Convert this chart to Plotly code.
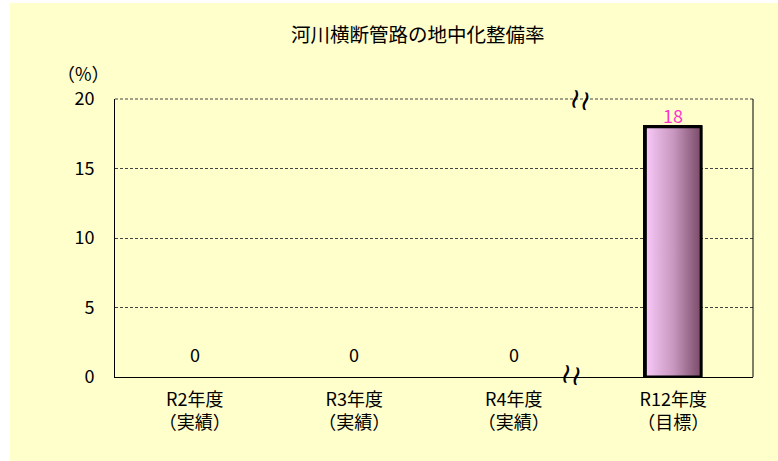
import plotly.graph_objects as go

# Data
categories = ["R2年度<br>（実績）", "R3年度<br>（実績）", "R4年度<br>（実績）", "R12年度<br>（目標）"]
values = [0, 0, 0, 18]
y_ticks = [0, 5, 10, 15, 20]

title_text = "河川横断管路の地中化整備率"
unit_text = "（%）"

FONT = "Noto Sans CJK JP"
BG = "#FFFFCC"
BAR_W = 0.35
xs = list(range(len(categories)))

fig = go.Figure()

# Base bars (no outline for empty bars)
fig.add_trace(go.Bar(
    x=xs, y=values, width=BAR_W,
    marker=dict(color="#B886B0",
                line=dict(color="black", width=[0 if v == 0 else 3 for v in values])),
    hoverinfo="skip", showlegend=False,
))

# Gradient overlay for each non-zero bar
for x, v in zip(xs, values):
    if v == 0:
        continue
    x0, x1 = x - BAR_W / 2, x + BAR_W / 2
    fig.add_trace(go.Scatter(
        x=[x0, x1, x1, x0, x0], y=[0, 0, v, v, 0],
        mode="lines", fill="toself",
        fillgradient=dict(type="horizontal",
                          colorscale=[[0, "#F9C9F9"], [0.5, "#C898C0"], [1, "#7A4A68"]]),
        line=dict(color="black", width=3),
        hoverinfo="skip", showlegend=False,
    ))

# Value labels
for x, v in zip(xs, values):
    fig.add_annotation(
        x=x, y=v, text=str(v), showarrow=False,
        xanchor="center", yanchor="middle",
        yshift=23 if v == 0 else 12,
        font=dict(family=FONT, size=18, color="black" if v == 0 else "#FF33CC"),
    )

# Title and unit
fig.add_annotation(xref="paper", yref="paper", x=0.475, y=1.237, text=title_text,
                   xanchor="center", yanchor="middle",
                   showarrow=False, font=dict(family=FONT, size=19.5, color="black"))
fig.add_annotation(xref="paper", yref="paper", x=-0.05, y=1.094, text=unit_text,
                   xanchor="center", yanchor="middle",
                   showarrow=False, font=dict(family=FONT, size=18, color="black"))

# Axis break marks
for bx, by in ((0.730, 1.0), (0.716, 0.01)):
    fig.add_annotation(xref="paper", yref="paper", x=bx, y=by, text="≀≀",
                       xanchor="center", yanchor="middle", showarrow=False,
                       textangle=12,
                       font=dict(family="DejaVu Sans", size=28, color="black"))

# Background panel
fig.add_shape(type="rect", xref="paper", yref="paper", x0=-0.1646, x1=1.04,
              y0=-0.31, y1=1.345, fillcolor=BG, line=dict(width=0), layer="below")

fig.update_layout(
    width=778, height=461,
    margin=dict(l=115, r=25, t=99, b=84),
    paper_bgcolor="white", plot_bgcolor=BG,
    font=dict(family=FONT, size=18, color="black"),
    bargap=0,
    xaxis=dict(range=[-0.5, 3.5], tickvals=xs, ticktext=categories,
               showgrid=False, zeroline=False, showline=True, linecolor="black",
               linewidth=1, mirror=False, ticks="", ticklabelstandoff=6,
               tickfont=dict(family=FONT, size=18)),
    yaxis=dict(range=[0, 20], tickvals=y_ticks, showgrid=True, gridcolor="#444444",
               griddash="3px,2px", gridwidth=1, zeroline=False, showline=True,
               linecolor="black", linewidth=1, ticks="", ticklabelstandoff=16,
               tickfont=dict(family=FONT, size=18)),
)

# Top dashed edge and solid right border of the plot area
fig.add_shape(type="line", xref="paper", yref="paper", x0=0, x1=1, y0=1, y1=1,
              line=dict(color="#444444", width=1, dash="3px,2px"))
fig.add_shape(type="line", xref="paper", yref="paper", x0=1, x1=1, y0=0, y1=1,
              line=dict(color="black", width=1))

fig.write_html("out.html")
